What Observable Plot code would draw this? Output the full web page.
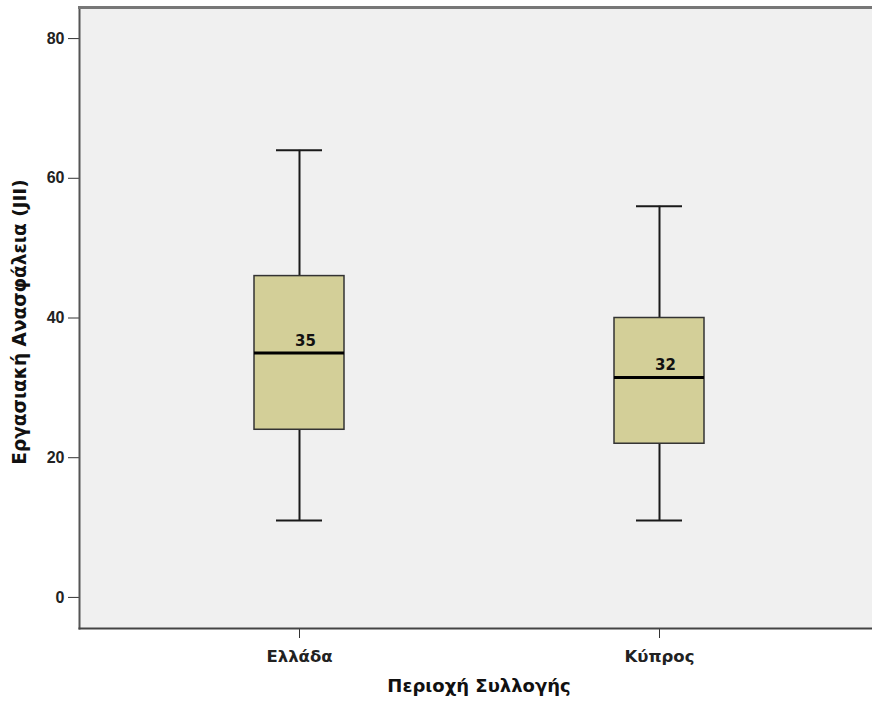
<!DOCTYPE html>
<html><head><meta charset="utf-8">
<script src="https://cdn.jsdelivr.net/npm/d3@7"></script>
<script src="https://cdn.jsdelivr.net/npm/@observablehq/plot@0.6"></script>
<style>body{margin:0;background:#fff;font-family:"DejaVu Sans",sans-serif;}</style>
</head><body><div id="chart"></div>
<script>
const categories = ["Ελλάδα", "Κύπρος"];
const minima = [11, 11];
const q1s = [24, 22];
const medians = [35, 31.5];
const q3s = [46, 40];
const maxima = [64, 56];
const medianLabels = ["35", "32"];
const yTicks = [0, 20, 40, 60, 80];

const data = categories.map((c, i) => ({cat: c, min: minima[i], q1: q1s[i], med: medians[i], q3: q3s[i], max: maxima[i], label: medianLabels[i]}));

const fill = "#d3cf98";
const dark = "#1a1a1a";

const chart = Plot.plot({
  width: 872, height: 704,
  marginLeft: 79, marginRight: 0, marginTop: 7, marginBottom: 76,
  style: {fontFamily: "DejaVu Sans, sans-serif", background: "#fff"},
  x: {type: "band", domain: categories, range: [254, 704], paddingInner: 0.75, paddingOuter: 0, label: null, axis: null},
  y: {domain: [-4.45, 84.45], label: null, axis: null},
  marks: [
    Plot.frame({fill: "#f0f0f0", stroke: null}),
    Plot.ruleX(data, {x: "cat", y1: "q3", y2: "max", stroke: dark, strokeWidth: 2}),
    Plot.ruleX(data, {x: "cat", y1: "min", y2: "q1", stroke: dark, strokeWidth: 2}),
    Plot.tickY(data, {x: "cat", y: "max", stroke: dark, strokeWidth: 2, insetLeft: 22, insetRight: 22}),
    Plot.tickY(data, {x: "cat", y: "min", stroke: dark, strokeWidth: 2, insetLeft: 22, insetRight: 22}),
    Plot.barY(data, {x: "cat", y1: "q1", y2: "q3", fill: fill, stroke: "#333", strokeWidth: 1.5}),
    Plot.tickY(data, {x: "cat", y: "med", stroke: "#000", strokeWidth: 3}),
    Plot.text(data, {x: "cat", y: "med", text: "label", dx: 6, dy: -12, fontWeight: "bold", fontSize: 15, fill: "#111"}),
    Plot.axisY(yTicks, {tickSize: 11, tickPadding: 4, fontSize: 16, fontWeight: "bold", fontFamily: "Liberation Sans, Arial, sans-serif", stroke: "#333", fill: "#222", label: null}),
    Plot.axisX({tickSize: 10, tickPadding: 12, fontSize: 16.5, fontWeight: "bold", stroke: "#333", fill: "#222", label: null}),
    Plot.frame({anchor: "left", stroke: "#555", strokeWidth: 2}),
    Plot.frame({anchor: "top", stroke: "#777", strokeWidth: 3}),
    Plot.frame({anchor: "bottom", stroke: "#444", strokeWidth: 2}),
    Plot.text(["Εργασιακή Ανασφάλεια (JII)"], {frameAnchor: "left", textAnchor: "middle", dx: -59, dy: 4, rotate: -90, fontSize: 18.5, fontWeight: "bold", fill: "#111"}),
    Plot.text(["Περιοχή Συλλογής"], {frameAnchor: "bottom", dx: 3, dy: 63, fontSize: 18, fontWeight: "bold", fill: "#111"})
  ]
});
document.getElementById("chart").appendChild(chart);
</script>
</body></html>
